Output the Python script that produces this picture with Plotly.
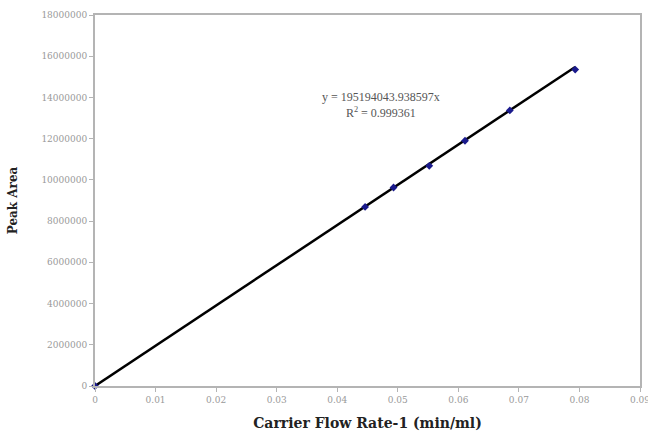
import numpy as np
import plotly.graph_objects as go

# Data
flow_rate = [0.0, 0.0446, 0.0493, 0.0552, 0.0611, 0.0685, 0.0793]
peak_area = [0, 8690000, 9630000, 10680000, 11900000, 13370000, 15350000]
slope = 195194043.938597
r_squared = 0.999361
x_ticks = [0, 0.01, 0.02, 0.03, 0.04, 0.05, 0.06, 0.07, 0.08, 0.09]
x_tick_labels = ["0", "0.01", "0.02", "0.03", "0.04", "0.05", "0.06", "0.07", "0.08", "0.09"]
y_ticks = [0, 2000000, 4000000, 6000000, 8000000, 10000000, 12000000, 14000000, 16000000, 18000000]
y_tick_labels = [str(v) for v in y_ticks]

fit_x = np.array([0.0, max(flow_rate)])
fit_y = slope * fit_x

serif = "Liberation Serif, Times New Roman, serif"
wide_serif = "DejaVu Serif, serif"
grey = "#b4b4b4"

fig = go.Figure()
fig.add_trace(go.Scatter(x=fit_x, y=fit_y, mode="lines",
                         line=dict(color="black", width=2.5), showlegend=False,
                         cliponaxis=False))
fig.add_trace(go.Scatter(x=flow_rate, y=peak_area, mode="markers",
                         marker=dict(symbol="diamond", size=6, color="#1a1a8c"),
                         showlegend=False, cliponaxis=False))

fig.add_annotation(x=0.0472, y=13640000, xref="x", yref="y",
                   text=f"y = {slope:.6f}x<br>R<sup>2</sup> = {r_squared}",
                   showarrow=False, align="center",
                   font=dict(family=serif, size=12, color="#555555"))

fig.update_layout(
    width=648, height=431,
    margin=dict(l=95, r=8, t=15, b=45),
    paper_bgcolor="white", plot_bgcolor="white",
    font=dict(family=serif),
)
fig.update_xaxes(
    range=[0, 0.09], tickvals=x_ticks, ticktext=x_tick_labels,
    showgrid=False, zeroline=False, automargin=False,
    ticklabeloverflow="allow",
    showline=True, linecolor=grey, linewidth=2, mirror=True,
    ticks="outside", ticklen=4, tickcolor=grey, tickwidth=1,
    tickfont=dict(family=wide_serif, size=9, color="#999999"),
    title=dict(text="<b>Carrier Flow Rate-1 (min/ml)</b>",
               font=dict(family=wide_serif, size=14, color="#222222"), standoff=16),
)
fig.update_yaxes(
    range=[0, 18000000], tickvals=y_ticks, ticktext=y_tick_labels,
    showgrid=False, zeroline=False, automargin=False,
    ticklabeloverflow="allow",
    showline=True, linecolor=grey, linewidth=2, mirror=True,
    ticks="outside", ticklen=4, tickcolor=grey, tickwidth=1,
    tickfont=dict(family=wide_serif, size=9, color="#999999"),
    title=dict(text="<b>Peak Area</b>",
               font=dict(family=wide_serif, size=12, color="#222222"), standoff=21),
)

fig.write_html("out.html")
